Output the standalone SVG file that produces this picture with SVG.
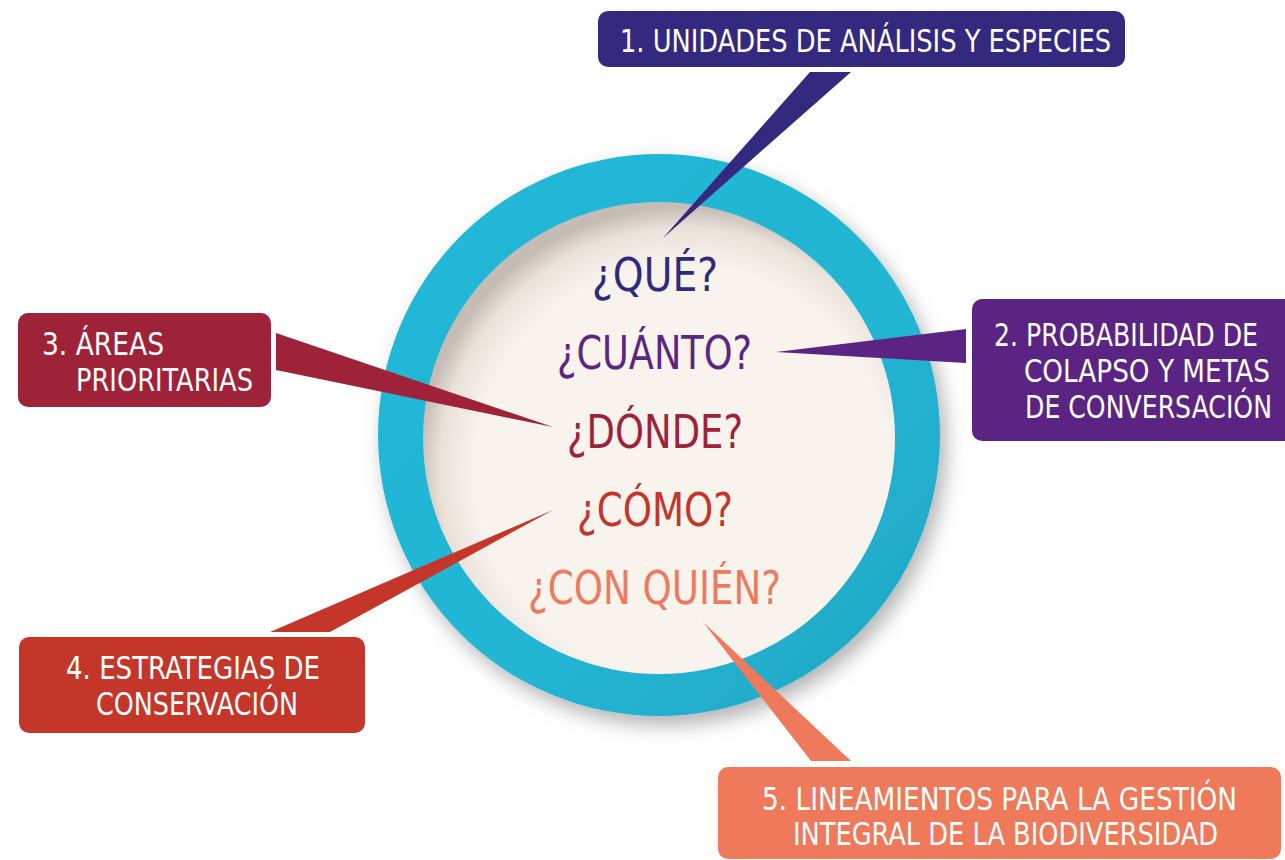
<svg xmlns="http://www.w3.org/2000/svg" width="1285" height="860" viewBox="0 0 1285 860">
<style>
.box text{font-family:"DejaVu Sans Condensed","Liberation Sans Narrow","Liberation Sans",sans-serif;fill:#fff;font-size:32px}
.q{font-family:"DejaVu Sans Condensed","Liberation Sans Narrow","Liberation Sans",sans-serif;font-size:46px;text-anchor:start}
</style>
<defs>
<filter id="sh" x="-20%" y="-20%" width="140%" height="140%">
<feDropShadow dx="6" dy="9" stdDeviation="10" flood-color="#000" flood-opacity="0.3"/>
</filter>
<radialGradient id="disk" cx="0.55" cy="0.57" r="0.56">
<stop offset="0.78" stop-color="#f9f3ee"/>
<stop offset="0.92" stop-color="#e9e2db"/>
<stop offset="1" stop-color="#c4bcb5"/>
</radialGradient>
<linearGradient id="ring" x1="0" y1="0" x2="1" y2="1">
<stop offset="0" stop-color="#24b8d7"/>
<stop offset="0.6" stop-color="#22b5d4"/>
<stop offset="1" stop-color="#1ea6c2"/>
</linearGradient>
</defs>
<rect width="1285" height="860" fill="#fff"/>
<g id="circle">
<circle cx="659" cy="435" r="281" fill="url(#ring)" filter="url(#sh)"/>
<circle cx="659" cy="438" r="236" fill="url(#disk)"/>
<text class="q" x="592" y="291" fill="#2f2a80" textLength="126" lengthAdjust="spacingAndGlyphs">¿QUÉ?</text>
<text class="q" x="557" y="369" fill="#5b2683" textLength="195" lengthAdjust="spacingAndGlyphs">¿CUÁNTO?</text>
<text class="q" x="567" y="448" fill="#9e2238" textLength="176" lengthAdjust="spacingAndGlyphs">¿DÓNDE?</text>
<text class="q" x="577" y="526" fill="#c4352b" textLength="156" lengthAdjust="spacingAndGlyphs">¿CÓMO?</text>
<text class="q" x="528" y="604" fill="#ee7a5c" textLength="253" lengthAdjust="spacingAndGlyphs">¿CON QUIÉN?</text>
</g>
<g id="connectors">
<polygon points="810,72 851,72 663,238" fill="#33297f"/>
<polygon points="966,329 966,363 776,352" fill="#5c2482"/>
<polygon points="276,333 276,370 553,427" fill="#9e2339"/>
<polygon points="270,632 330,632 553,510" fill="#c4352a"/>
<polygon points="811,761 851,761 703,622" fill="#ee7a5b"/>
</g>
<g id="n1" class="box">
<rect x="598" y="11" width="527" height="56" rx="10" fill="#33297f"/>
<text x="620" y="52" textLength="491" lengthAdjust="spacingAndGlyphs">1. UNIDADES DE ANÁLISIS Y ESPECIES</text>
</g>
<g id="n2" class="box">
<path d="M982,299 H1285 V441 H982 A10,10 0 0 1 972,431 V309 A10,10 0 0 1 982,299 Z" fill="#5c2482"/>
<text x="994" y="346" textLength="264" lengthAdjust="spacingAndGlyphs">2. PROBABILIDAD DE</text>
<text x="1024" y="382" textLength="246" lengthAdjust="spacingAndGlyphs">COLAPSO Y METAS</text>
<text x="1025" y="418" textLength="247" lengthAdjust="spacingAndGlyphs">DE CONVERSACIÓN</text>
</g>
<g id="n3" class="box">
<rect x="18" y="313" width="253" height="94" rx="10" fill="#9e2339"/>
<text x="42" y="355" textLength="122" lengthAdjust="spacingAndGlyphs">3. ÁREAS</text>
<text x="76" y="391" textLength="177" lengthAdjust="spacingAndGlyphs">PRIORITARIAS</text>
</g>
<g id="n4" class="box">
<rect x="19" y="637" width="346" height="96" rx="10" fill="#c4352a"/>
<text x="66" y="679" textLength="254" lengthAdjust="spacingAndGlyphs">4. ESTRATEGIAS DE</text>
<text x="96" y="715" textLength="202" lengthAdjust="spacingAndGlyphs">CONSERVACIÓN</text>
</g>
<g id="n5" class="box">
<rect x="718" y="767" width="563" height="92" rx="10" fill="#ee7a5b"/>
<text x="762" y="810" textLength="475" lengthAdjust="spacingAndGlyphs">5. LINEAMIENTOS PARA LA GESTIÓN</text>
<text x="793" y="845" textLength="425" lengthAdjust="spacingAndGlyphs">INTEGRAL DE LA BIODIVERSIDAD</text>
</g>
</svg>
